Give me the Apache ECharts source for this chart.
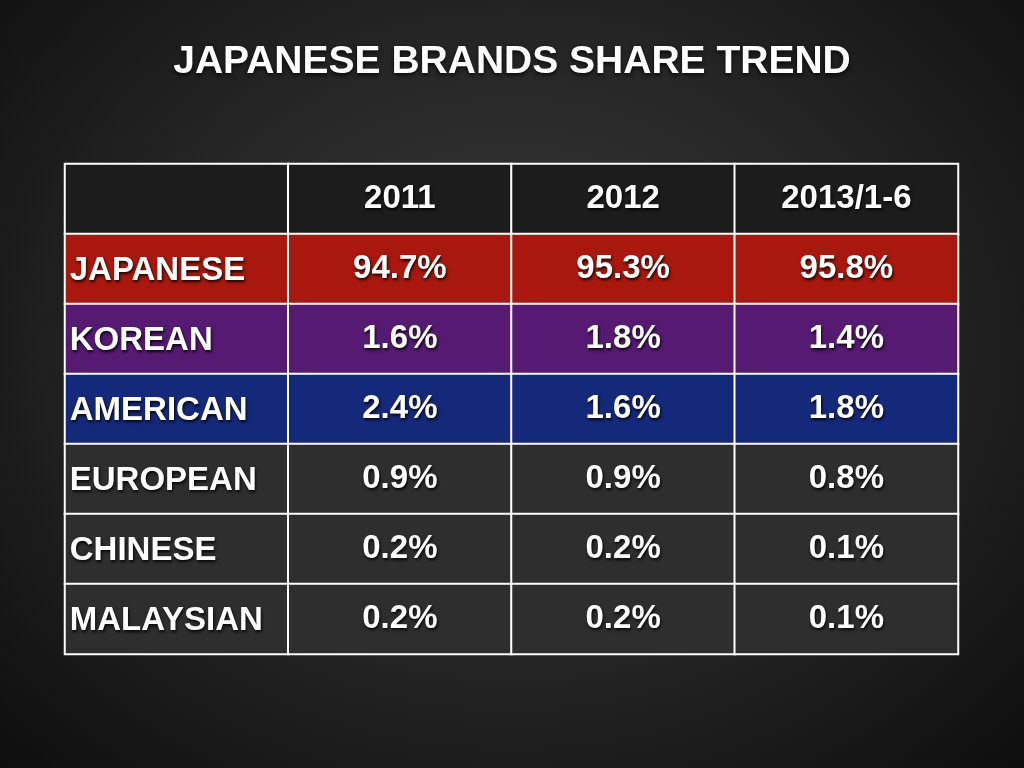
<!DOCTYPE html>
<html><head><meta charset="utf-8">
<script src="https://cdn.jsdelivr.net/npm/echarts@6/dist/echarts.min.js"></script>
<style>html,body{margin:0;padding:0;}#c{width:1024px;height:768px;background:radial-gradient(ellipse at 50% 45%,#3a3a3a 0%,#262626 50%,#0e0e0e 100%);}</style>
</head><body><div id="c"></div>
<script>
var columns = ['', '2011', '2012', '2013/1-6'];
var brands = ['JAPANESE', 'KOREAN', 'AMERICAN', 'EUROPEAN', 'CHINESE', 'MALAYSIAN'];
var share2011 = ['94.7%', '1.6%', '2.4%', '0.9%', '0.2%', '0.2%'];
var share2012 = ['95.3%', '1.8%', '1.6%', '0.9%', '0.2%', '0.2%'];
var share2013 = ['95.8%', '1.4%', '1.8%', '0.8%', '0.1%', '0.1%'];
var rowColors = ['#a8180e', '#561a72', '#14297a', '#2e2e2e', '#2e2e2e', '#2e2e2e'];

var rows = ['header'].concat(brands);
var data = [];
columns.forEach(function (c, i) {
    data.push({ value: [i, 0, 0], text: c, itemStyle: { color: '#1c1c1c' } });
});
brands.forEach(function (b, r) {
    var vals = [b, share2011[r], share2012[r], share2013[r]];
    vals.forEach(function (t, i) {
        var item = { value: [i, r + 1, 0], text: t, itemStyle: { color: rowColors[r] } };
        if (i === 0) item.label = { position: [6, '52%'], align: 'left', verticalAlign: 'middle' };
        data.push(item);
    });
});

var chart = echarts.init(document.getElementById('c'));
chart.setOption({
    title: {
        text: 'JAPANESE BRANDS SHARE TREND', left: 'center', top: 38,
        textStyle: { color: '#fff', fontSize: 39, fontWeight: 'bold', fontFamily: 'Liberation Sans',
            textShadowColor: 'rgba(0,0,0,0.8)', textShadowBlur: 4, textShadowOffsetY: 2 }
    },
    grid: { left: 65, right: 66, top: 164, bottom: 114 },
    xAxis: { type: 'category', data: columns, show: false },
    yAxis: { type: 'category', data: rows, inverse: true, show: false },
    series: [{
        type: 'heatmap',
        data: data,
        itemStyle: { borderColor: '#fff', borderWidth: 2 },
        label: {
            show: true, color: '#fff', fontSize: 33, fontWeight: 'bold', fontFamily: 'Liberation Sans',
            padding: [6, 0, 0, 0],
            textShadowColor: 'rgba(0,0,0,0.85)', textShadowBlur: 3, textShadowOffsetX: 1, textShadowOffsetY: 2,
            formatter: function (p) { return p.data.text; }
        },
        emphasis: { disabled: true }
    }]
});
</script></body></html>
